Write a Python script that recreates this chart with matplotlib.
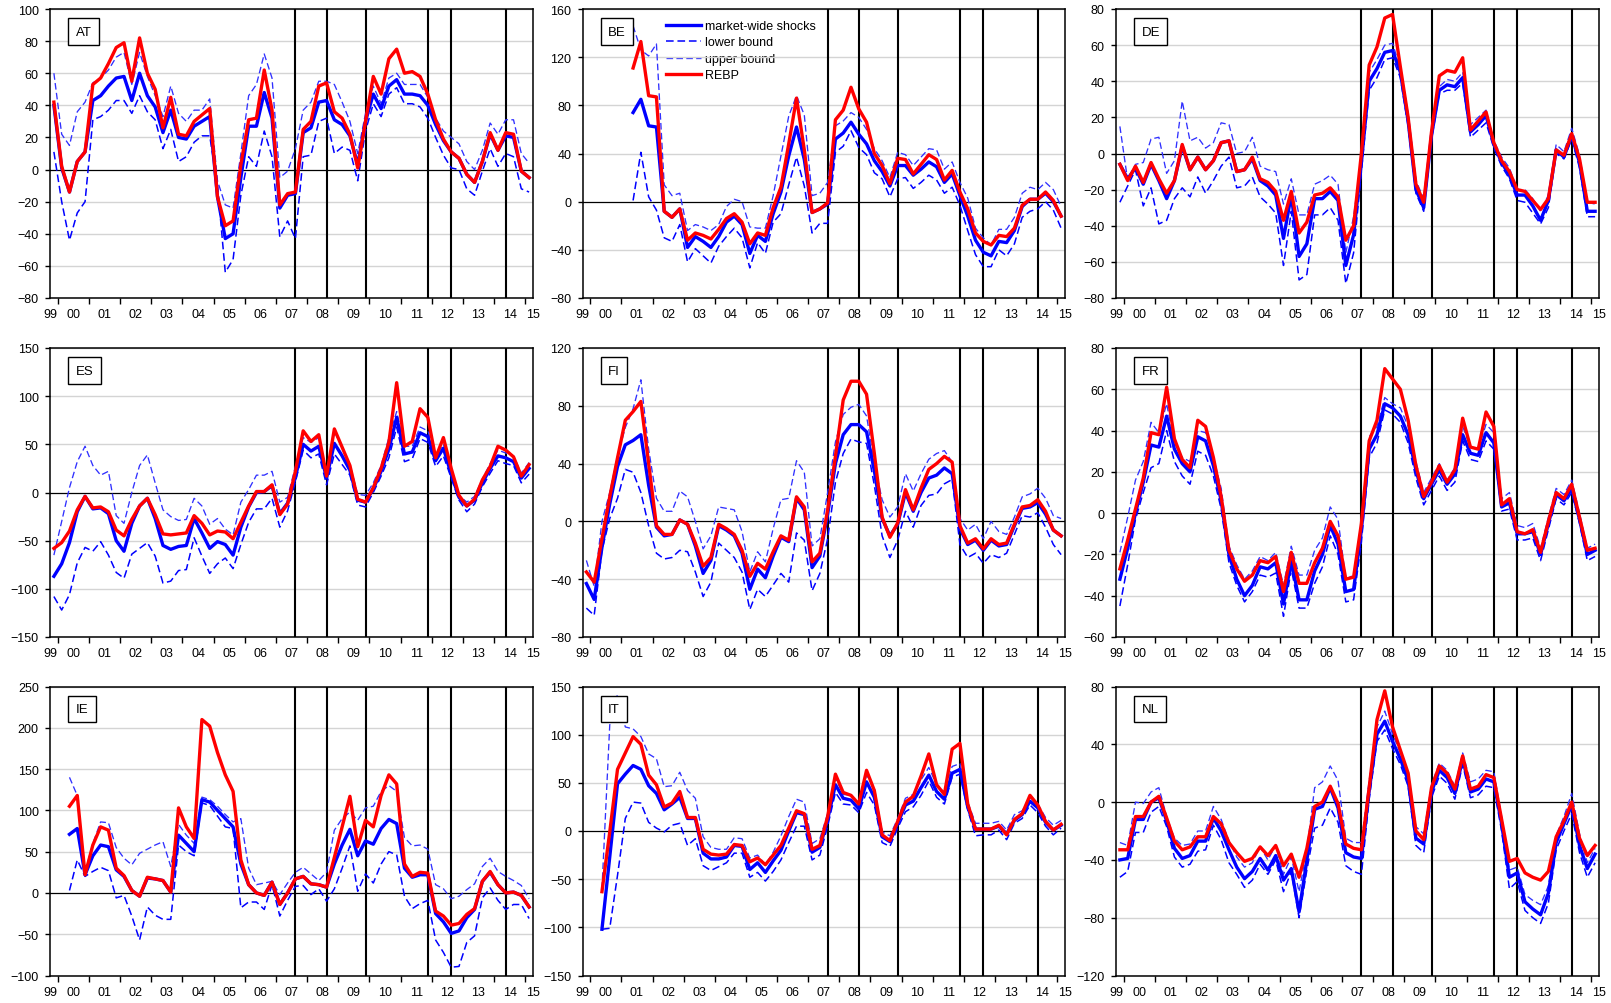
import numpy as np
import matplotlib
matplotlib.use('Agg')
import matplotlib.pyplot as plt

plt.rcParams['font.family'] = ['Liberation Sans', 'DejaVu Sans']

nan = np.nan

# quarterly observations, 1999Q4 .. 2015Q1 (62 quarters)
first_quarter = (1999, 4)
n_quarters = 62
year_labels = ['99', '00', '01', '02', '03', '04', '05', '06', '07',
               '08', '09', '10', '11', '12', '13', '14', '15']
event_quarters = ['2007Q3', '2008Q3', '2009Q4', '2011Q4', '2012Q3', '2014Q2']

countries = ['AT', 'BE', 'DE', 'ES', 'FI', 'FR', 'IE', 'IT', 'NL']
y_limits = [(-80, 100), (-80, 160), (-80, 80), (-150, 150), (-80, 120),
            (-60, 80), (-100, 250), (-150, 150), (-120, 80)]
y_steps = [20, 40, 20, 50, 40, 20, 50, 50, 40]

# ---- AT
at_rebp = [42, 2, -14, 5, 11, 53, 57, 66, 76, 79,
           55, 82, 60, 50, 26, 45, 22, 21, 30, 34,
           38, -17, -35, -32, 3, 31, 32, 62, 37, -22,
           -15, -14, 25, 30, 52, 54, 36, 32, 22, 1,
           30, 58, 47, 69, 75, 60, 61, 58, 47, 31,
           19, 11, 7, -3, -8, 5, 23, 12, 23, 22,
           -1, -5]
at_mkt = [40, 1, -14, 5, 11, 43, 46, 52, 57, 58,
          43, 60, 46, 39, 23, 37, 20, 19, 27, 30,
          33, -17, -43, -40, -5, 27, 27, 48, 32, -24,
          -16, -15, 23, 26, 42, 43, 31, 28, 21, 3,
          30, 47, 38, 52, 56, 47, 47, 46, 40, 28,
          18, 11, 7, -3, -8, 5, 22, 12, 21, 20,
          -1, -5]
at_up = [60, 22, 15, 36, 42, 54, 57, 62, 70, 73,
         53, 73, 58, 46, 33, 52, 35, 30, 37, 37,
         44, -7, -22, -24, 10, 46, 53, 72, 57, -5,
         -1, 13, 37, 42, 55, 55, 53, 42, 30, 10,
         35, 52, 41, 57, 60, 53, 53, 53, 45, 32,
         24, 20, 16, 5, 0, 12, 29, 22, 31, 31,
         10, 4]
at_lo = [11, -20, -44, -27, -20, 31, 33, 37, 43, 43,
         35, 46, 36, 31, 13, 25, 5, 8, 17, 21,
         21, -10, -64, -56, -16, 8, 2, 24, 8, -42,
         -32, -43, 8, 9, 30, 32, 10, 14, 12, -7,
         24, 41, 33, 47, 51, 41, 41, 39, 32, 20,
         9, 1, 0, -12, -16, -1, 13, 2, 10, 8,
         -12, -14]

# ---- BE
be_rebp = [nan, nan, nan, nan, nan, nan, 111, 133, 88, 87,
           -8, -13, -6, -32, -26, -28, -31, -23, -14, -10,
           -17, -35, -26, -28, -5, 12, 48, 86, 43, -9,
           -6, -1, 68, 76, 95, 77, 66, 40, 30, 15,
           36, 35, 23, 31, 39, 35, 18, 26, 8, -6,
           -26, -33, -36, -28, -29, -22, -3, 2, 2, 8,
           1, -12]
be_mkt = [nan, nan, nan, nan, nan, nan, 74, 85, 63, 62,
          -8, -13, -6, -38, -29, -33, -38, -29, -17, -12,
          -19, -43, -28, -33, -10, 8, 38, 62, 35, -9,
          -6, -2, 52, 57, 66, 56, 48, 34, 25, 13,
          30, 30, 22, 27, 33, 29, 16, 23, 5, -12,
          -32, -42, -45, -33, -34, -24, -4, 2, 2, 7,
          0, -12]
be_up = [nan, nan, nan, nan, nan, nan, 146, 126, 121, 131,
         14, 5, 7, -24, -19, -21, -24, -19, -4, 2,
         0, -21, -22, -22, 5, 38, 71, 88, 72, 5,
         7, 16, 63, 67, 74, 70, 60, 44, 34, 20,
         41, 39, 30, 37, 44, 43, 27, 33, 16, 3,
         -22, -30, -36, -23, -23, -13, 7, 12, 10, 16,
         10, -4]
be_lo = [nan, nan, nan, nan, nan, nan, 1, 41, 4, -7,
         -30, -33, -19, -50, -39, -45, -51, -37, -29, -22,
         -30, -55, -34, -43, -17, -10, 14, 37, 13, -26,
         -18, -18, 41, 46, 59, 45, 39, 24, 19, 4,
         19, 20, 11, 16, 22, 18, 7, 12, -3, -24,
         -44, -54, -54, -40, -45, -35, -13, -8, -6, 0,
         -7, -22]

# ---- DE
de_rebp = [-6, -15, -7, -16, -5, -14, -22, -15, 5, -9,
           -2, -9, -4, 6, 7, -10, -9, -2, -14, -16,
           -21, -37, -21, -44, -38, -23, -22, -19, -24, -48,
           -40, 0, 49, 59, 75, 77, 48, 20, -17, -27,
           12, 43, 46, 45, 53, 13, 18, 23, 6, -4,
           -10, -20, -21, -26, -31, -25, 2, -1, 11, -3,
           -27, -27]
de_mkt = [-6, -14, -8, -17, -6, -15, -25, -15, 4, -9,
          -2, -9, -4, 6, 7, -10, -9, -3, -15, -18,
          -23, -47, -23, -57, -50, -25, -25, -21, -26, -62,
          -45, -5, 40, 47, 56, 57, 45, 18, -20, -30,
          10, 35, 38, 37, 42, 12, 16, 21, 5, -5,
          -12, -23, -23, -29, -37, -26, 2, -2, 10, -5,
          -32, -32]
de_up = [15, -15, -6, -5, 8, 9, -11, -4, 29, 7,
         9, 3, 6, 17, 16, 0, 1, 9, -7, -9,
         -10, -28, -14, -34, -34, -17, -15, -12, -17, -55,
         -35, -2, 45, 52, 60, 61, 47, 22, -15, -25,
         12, 37, 41, 40, 45, 16, 20, 24, 7, -2,
         -8, -20, -20, -25, -32, -23, 5, 1, 14, -1,
         -27, -28]
de_lo = [-27, -18, -9, -29, -19, -39, -37, -25, -19, -24,
         -13, -22, -15, -7, -2, -19, -18, -13, -24, -28,
         -33, -62, -32, -70, -67, -34, -34, -30, -37, -72,
         -55, -10, 35, 42, 52, 53, 42, 15, -22, -32,
         8, 33, 35, 35, 39, 9, 13, 17, 3, -7,
         -14, -26, -27, -33, -39, -30, 0, -3, 8, -8,
         -35, -35]

# ---- ES
es_rebp = [-58, -52, -40, -18, -4, -16, -15, -20, -39, -45,
           -28, -14, -6, -23, -43, -44, -43, -42, -24, -32,
           -44, -40, -41, -48, -31, -14, 1, 1, 8, -23,
           -12, 22, 64, 53, 60, 17, 66, 47, 28, -7,
           -10, 5, 25, 52, 114, 48, 53, 87, 78, 36,
           57, 25, -3, -14, -7, 13, 27, 48, 44, 37,
           17, 29]
es_mkt = [-87, -74, -52, -20, -4, -17, -16, -22, -50, -61,
          -32, -14, -6, -27, -55, -59, -56, -55, -27, -42,
          -58, -51, -54, -65, -36, -15, 0, 1, 7, -22,
          -11, 16, 50, 43, 48, 15, 51, 38, 23, -8,
          -10, 4, 22, 45, 78, 40, 42, 62, 58, 33,
          46, 19, -5, -14, -8, 10, 25, 38, 36, 32,
          15, 25]
es_up = [-65, -30, 5, 32, 48, 28, 18, 22, -24, -32,
         0, 28, 39, 10, -18, -25, -29, -28, -6, -14,
         -33, -27, -38, -44, -10, 3, 18, 18, 22, -10,
         -5, 27, 57, 52, 57, 22, 63, 47, 29, -2,
         -3, 10, 28, 57, 84, 48, 48, 68, 64, 38,
         50, 23, -3, -10, -4, 14, 30, 44, 41, 38,
         20, 31]
es_lo = [-108, -122, -106, -73, -57, -61, -51, -65, -83, -89,
         -64, -58, -52, -66, -94, -92, -81, -80, -47, -66,
         -84, -74, -68, -79, -54, -31, -17, -17, -6, -36,
         -19, 11, 44, 36, 40, 8, 40, 29, 18, -13,
         -15, 0, 17, 36, 68, 32, 35, 56, 52, 27,
         38, 15, -8, -20, -12, 6, 20, 33, 30, 28,
         10, 19]

# ---- FI
fi_rebp = [-35, -42, -12, 17, 44, 70, 76, 83, 40, -3,
           -9, -9, 1, -2, -15, -31, -25, -2, -5, -9,
           -20, -38, -29, -33, -21, -10, -13, 17, 10, -28,
           -22, 8, 45, 84, 97, 97, 88, 47, 3, -11,
           -1, 22, 8, 23, 36, 40, 45, 41, -3, -15,
           -12, -19, -12, -16, -15, -2, 10, 11, 15, 7,
           -6, -10]
fi_mkt = [-43, -54, -18, 12, 38, 53, 56, 60, 25, -4,
          -10, -9, 1, -2, -17, -36, -27, -3, -6, -10,
          -22, -47, -33, -39, -24, -11, -14, 16, 8, -32,
          -24, 5, 40, 60, 67, 67, 62, 35, 2, -10,
          -2, 20, 7, 20, 30, 32, 37, 33, -5, -16,
          -13, -20, -13, -17, -16, -3, 9, 10, 13, 5,
          -6, -10]
fi_up = [-27, -45, 0, 20, 45, 65, 78, 98, 50, 16,
         7, 7, 21, 17, 0, -19, -10, 10, 9, 8,
         -7, -35, -21, -28, -5, 15, 16, 42, 34, -17,
         -12, 20, 55, 74, 79, 81, 73, 40, 15, 3,
         10, 33, 21, 33, 43, 47, 49, 41, 2, -6,
         -2, -12, 0, -7, -9, 3, 17, 19, 23, 16,
         4, 2]
fi_lo = [-60, -65, -20, 2, 16, 36, 34, 20, -3, -22,
         -26, -25, -20, -21, -35, -52, -42, -15, -20, -25,
         -35, -61, -47, -52, -44, -36, -42, -8, -13, -48,
         -36, -12, 27, 47, 57, 55, 54, 25, -10, -25,
         -13, 7, -4, 11, 18, 19, 26, 29, -16, -25,
         -22, -29, -23, -25, -22, -9, 4, 3, 6, -4,
         -16, -23]

# ---- FR
fr_rebp = [-27, -13, 2, 17, 39, 38, 61, 36, 26, 22,
           45, 42, 27, 8, -18, -27, -33, -30, -23, -24,
           -21, -38, -19, -34, -34, -24, -17, -4, -11, -32,
           -31, -5, 35, 45, 70, 65, 60, 45, 23, 8,
           15, 23, 15, 21, 46, 32, 31, 49, 42, 4,
           7, -9, -10, -8, -19, -4, 10, 7, 14, -2,
           -18, -17]
fr_mkt = [-32, -17, 0, 15, 33, 32, 47, 31, 24, 20,
          37, 35, 23, 6, -20, -32, -40, -35, -26, -27,
          -24, -44, -23, -42, -42, -28, -20, -6, -15, -38,
          -37, -8, 31, 38, 53, 51, 47, 38, 21, 7,
          14, 21, 14, 19, 38, 29, 28, 39, 34, 3,
          5, -10, -10, -9, -20, -5, 9, 6, 12, -3,
          -20, -18]
fr_up = [-19, -2, 16, 25, 44, 39, 53, 34, 27, 25,
         40, 39, 27, 12, -16, -25, -32, -28, -21, -23,
         -19, -35, -16, -30, -30, -18, -12, 3, -3, -32,
         -30, -4, 37, 42, 56, 53, 51, 42, 25, 10,
         17, 24, 16, 22, 42, 32, 31, 43, 39, 7,
         10, -6, -7, -5, -17, -2, 12, 9, 16, 0,
         -17, -15]
fr_lo = [-45, -25, -3, 10, 22, 24, 40, 25, 18, 14,
         30, 28, 18, 2, -24, -35, -43, -38, -30, -31,
         -29, -50, -27, -46, -46, -34, -26, -11, -20, -43,
         -42, -14, 27, 34, 50, 48, 44, 34, 17, 4,
         11, 18, 11, 15, 35, 26, 25, 35, 31, 1,
         2, -13, -13, -12, -23, -8, 7, 4, 10, -5,
         -23, -21]

# ---- IE
ie_rebp = [nan, nan, 105, 118, 22, 58, 80, 76, 30, 21,
           3, -4, 19, 17, 15, 1, 103, 80, 66, 210,
           202, 170, 143, 123, 40, 10, 0, -3, 13, -14,
           0, 17, 20, 11, 10, 7, 43, 80, 117, 56,
           88, 80, 118, 143, 132, 35, 20, 25, 24, -22,
           -28, -39, -37, -26, -19, 14, 26, 10, 0, 1,
           -3, -17]
ie_mkt = [nan, nan, 71, 78, 22, 45, 58, 56, 28, 20,
          3, -4, 18, 17, 15, 1, 70, 60, 50, 113,
          110, 100, 90, 80, 35, 10, 0, -3, 13, -14,
          0, 17, 20, 11, 10, 7, 35, 58, 77, 45,
          63, 59, 78, 89, 84, 30, 19, 22, 22, -25,
          -35, -49, -46, -30, -20, 14, 25, 10, 0, 1,
          -3, -17]
ie_up = [nan, nan, 140, 118, 25, 60, 86, 85, 55, 42,
         34, 48, 53, 58, 62, 32, 83, 70, 60, 116,
         113, 105, 95, 86, 90, 30, 10, 12, 14, -2,
         12, 25, 31, 23, 15, 25, 76, 90, 98, 88,
         103, 105, 123, 130, 123, 67, 57, 58, 53, 10,
         5, -7, -4, 4, 11, 32, 42, 26, 20, 15,
         9, -7]
ie_lo = [nan, nan, 3, 40, 20, 26, 31, 27, -6, -3,
         -28, -57, -17, -27, -32, -32, 58, 50, 45, 109,
         106, 93, 80, 78, -18, -11, -11, -20, 10, -28,
         -9, 8, 9, -2, 5, -10, 5, 30, 57, 2,
         23, 12, 35, 50, 46, -4, -19, -13, -9, -57,
         -72, -90, -89, -60, -52, -6, 6, -9, -20, -14,
         -14, -31]

# ---- IT
it_rebp = [nan, nan, -63, -1, 64, 81, 98, 90, 58, 48,
           25, 29, 41, 14, 14, -19, -24, -25, -24, -14,
           -15, -32, -28, -35, -25, -15, 3, 21, 18, -19,
           -15, 15, 59, 40, 37, 28, 63, 42, -4, -10,
           10, 30, 36, 57, 80, 48, 38, 85, 91, 28,
           2, 2, 2, 6, -4, 12, 18, 37, 27, 10,
           1, 7]
it_mkt = [nan, nan, -102, -27, 49, 59, 68, 64, 47, 39,
          22, 28, 35, 13, 13, -23, -29, -29, -27, -15,
          -16, -40, -33, -43, -31, -20, 0, 19, 17, -22,
          -17, 12, 48, 34, 32, 23, 51, 35, -6, -11,
          8, 27, 31, 45, 58, 41, 33, 60, 64, 25,
          2, 2, 2, 5, -3, 11, 17, 31, 24, 9,
          1, 6]
it_up = [nan, nan, -60, 110, 142, 108, 106, 98, 80, 75,
         46, 47, 61, 42, 34, -6, -17, -19, -19, -7,
         -8, -28, -25, -35, -22, -5, 15, 33, 30, -13,
         -8, 18, 55, 38, 37, 27, 58, 45, -1, -5,
         13, 34, 38, 53, 66, 48, 40, 67, 70, 30,
         8, 8, 8, 10, 1, 17, 21, 35, 28, 14,
         6, 11]
it_lo = [nan, nan, -102, -101, -46, 13, 30, 29, 9, 3,
         -1, 6, 8, -15, -8, -36, -41, -37, -33, -23,
         -23, -48, -43, -52, -42, -30, -12, 5, 5, -30,
         -25, 5, 40, 28, 27, 19, 40, 27, -12, -16,
         3, 20, 25, 37, 52, 35, 28, 56, 59, 22,
         -5, -4, -4, 1, -9, 8, 13, 27, 19, 5,
         -4, 3]

# ---- NL
nl_rebp = [-33, -33, -10, -10, 0, 4, -11, -27, -33, -31,
           -24, -24, -10, -15, -28, -35, -41, -39, -31, -37,
           -30, -44, -36, -52, -32, -3, 0, 11, -1, -29,
           -32, -33, 10, 57, 77, 52, 36, 20, -20, -26,
           10, 25, 20, 9, 32, 9, 11, 19, 17, -12,
           -41, -39, -49, -52, -54, -48, -24, -13, 0, -25,
           -37, -30]
nl_mkt = [-40, -39, -12, -12, 0, 3, -13, -32, -39, -37,
          -27, -27, -11, -20, -33, -45, -53, -48, -39, -47,
          -37, -54, -46, -76, -40, -5, -3, 10, -4, -35,
          -38, -39, 8, 47, 56, 42, 30, 15, -25, -29,
          7, 22, 17, 6, 30, 7, 9, 16, 14, -15,
          -52, -49, -69, -74, -78, -63, -28, -15, -2, -30,
          -46, -36]
nl_up = [-28, -30, 0, -1, 7, 10, -10, -25, -30, -29,
         -20, -20, -3, -12, -27, -38, -45, -42, -31, -40,
         -30, -50, -38, -62, -33, 10, 14, 25, 15, -25,
         -28, -28, 15, 52, 63, 47, 34, 20, -17, -22,
         12, 27, 22, 11, 34, 14, 16, 22, 21, -10,
         -47, -45, -64, -68, -71, -58, -23, -10, 6, -22,
         -42, -32]
nl_lo = [-52, -48, -21, -21, -7, -3, -17, -38, -45, -43,
         -34, -33, -16, -26, -42, -50, -59, -54, -43, -50,
         -40, -62, -48, -80, -47, -18, -16, -4, -14, -44,
         -48, -50, 2, 42, 50, 37, 26, 11, -30, -35,
         3, 18, 13, 2, 26, 3, 5, 11, 10, -20,
         -60, -55, -75, -80, -84, -70, -33, -20, -8, -35,
         -52, -42]

rebp = [at_rebp, be_rebp, de_rebp, es_rebp, fi_rebp, fr_rebp, ie_rebp, it_rebp, nl_rebp]
mkt = [at_mkt, be_mkt, de_mkt, es_mkt, fi_mkt, fr_mkt, ie_mkt, it_mkt, nl_mkt]
upper = [at_up, be_up, de_up, es_up, fi_up, fr_up, ie_up, it_up, nl_up]
lower = [at_lo, be_lo, de_lo, es_lo, fi_lo, fr_lo, ie_lo, it_lo, nl_lo]


def quarter_index(label):
    y, q = int(label[:4]), int(label[5])
    return (y - first_quarter[0]) * 4 + (q - first_quarter[1])


W, H = 1611, 1004
fig = plt.figure(figsize=(W / 100, H / 100), dpi=100)

# panel placement in pixels
col_left = [50, 582.5, 1116]
col_width = [483, 482.5, 483]
row_top = [10, 349, 687.5]
panel_h = 289

x = np.arange(n_quarters) + 0.5
year_starts = [quarter_index('%dQ1' % y) for y in range(2000, 2016)]
label_pos = [0] + [s + 2 for s in year_starts[:-1]] + [n_quarters]

for k, cc in enumerate(countries):
    r, c = divmod(k, 3)
    rect = [col_left[c] / W, 1 - (row_top[r] + panel_h) / H,
            col_width[c] / W, panel_h / H]
    ax = fig.add_axes(rect)

    lo_, hi_ = y_limits[k]
    ax.set_ylim(lo_, hi_)
    ax.set_xlim(0, n_quarters)
    yt = np.arange(lo_, hi_ + 1, y_steps[k])
    ax.set_yticks(yt)
    for v in yt:
        if v != 0:
            ax.axhline(v, color='#d4d4d4', lw=1.0, zorder=0.5)
    ax.axhline(0, color='black', lw=0.9, zorder=1.6)

    for ev in event_quarters:
        ax.axvline(quarter_index(ev) + 0.5, color='black', lw=1.5, zorder=1.7)

    ax.plot(x, np.array(lower[k], dtype=float), color='#0000ff', lw=1.1,
            dashes=(5, 2.5), zorder=2, label='lower bound')
    ax.plot(x, np.array(upper[k], dtype=float), color='#3030ff', lw=0.95,
            dashes=(5, 2.5), zorder=2, label='upper bound')
    ax.plot(x, np.array(mkt[k], dtype=float), color='#0000ff', lw=2.4,
            zorder=2.1, label='market-wide shocks')
    ax.plot(x, np.array(rebp[k], dtype=float), color='#ff0000', lw=2.4,
            zorder=2.2, label='REBP')

    ax.set_xticks(year_starts)
    ax.set_xticklabels([])
    ax.set_xticks(label_pos, minor=True)
    ax.set_xticklabels(year_labels, minor=True)
    ax.tick_params(axis='x', which='major', direction='out', length=4.3,
                   width=1.0, color='black')
    ax.tick_params(axis='x', which='minor', length=0, pad=7.5, labelsize=9)
    ax.tick_params(axis='y', direction='out', length=3.8, width=1.0,
                   pad=4.3, labelsize=9)
    ax.tick_params(top=False, right=False)
    for s in ax.spines.values():
        s.set_linewidth(1.1)
        s.set_color('black')
        s.set_zorder(3)

    ax.annotate(cc, xy=(0, 1), xycoords='axes fraction',
                xytext=(18.5, -12.0), textcoords='offset points',
                ha='left', va='top', fontsize=9.5, zorder=4,
                bbox=dict(boxstyle='square,pad=0.55', fc='white',
                          ec='black', lw=1.0))

    if cc == 'BE':
        h = ax.get_legend_handles_labels()[0]
        handles = [h[2], h[0], h[1], h[3]]
        labels = ['market-wide shocks', 'lower bound', 'upper bound', 'REBP']
        leg = ax.legend(handles, labels, loc='upper left',
                        bbox_to_anchor=(0.174, 0.962), frameon=False,
                        fontsize=9, handlelength=2.75, handletextpad=0.33,
                        labelspacing=0.36, borderpad=0, borderaxespad=0)
        leg.set_zorder(0.4)

fig.savefig('out.png', dpi=100)
